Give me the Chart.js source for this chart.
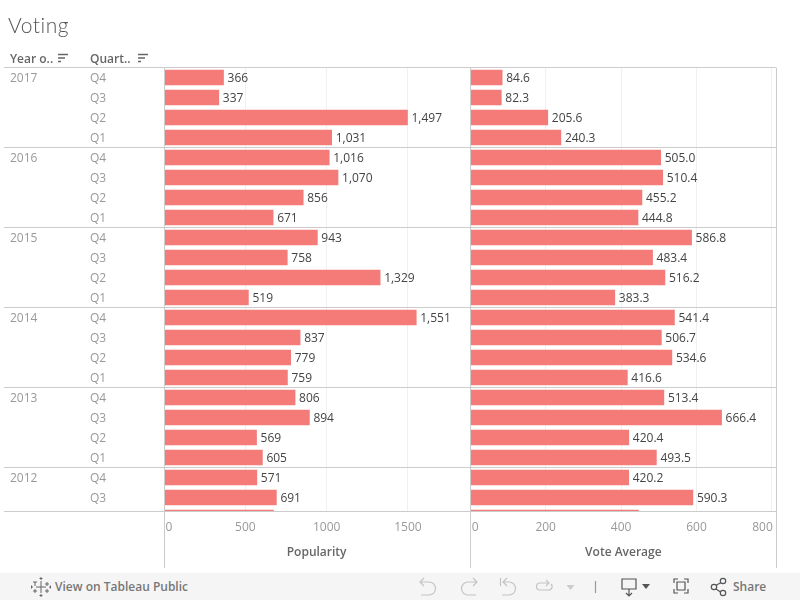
<!DOCTYPE html>
<html>
<head>
<meta charset="utf-8">
<title>Voting</title>
<script src="https://cdn.jsdelivr.net/npm/chart.js@4"></script>
<style>
  html, body { margin: 0; padding: 0; background: #fff; }
  #page { position: relative; width: 800px; height: 600px; overflow: hidden; font-family: "Open Sans", sans-serif; }
  #chart { position: absolute; left: 0; top: 0; }
  #title { position: absolute; left: 8px; top: 12px; font: 300 21px Lato, sans-serif; color: #555; letter-spacing: .5px; }
  .head { position: absolute; top: 50px; font-size: 12px; font-weight: 600; color: #666; }
  .sort { position: absolute; top: 53px; }
  #toolbar { position: absolute; left: 0; top: 573px; width: 800px; height: 27px; background: #f5f5f5; }
  #toolbar span { position: absolute; top: 5px; font-size: 12px; font-weight: 600; color: #777; }
  #toolbar svg { position: absolute; left: 0; top: 0; }
</style>
</head>
<body>
<div id="page">
  <canvas id="chart" width="800" height="600"></canvas>
  <div id="title">Voting</div>
  <div class="head" style="left:10px">Year o..</div>
  <svg class="sort" style="left:57px" width="12" height="11"><path d="M1 1.5h10M1 5h7M1 8.5h3" stroke="#666" stroke-width="1.6"/></svg>
  <div class="head" style="left:90px">Quart..</div>
  <svg class="sort" style="left:137px" width="12" height="11"><path d="M1 1.5h10M1 5h7M1 8.5h3" stroke="#666" stroke-width="1.6"/></svg>
  <div id="toolbar">
    <svg width="800" height="27" fill="none" stroke="#c4c4c4" stroke-width="1.2">
      <path d="M41 8v12M36 14h10M41 4v3M41 21v3M39.500 5.500h3M39.500 22.500h3M33 14h-1M49 14h1M31.500 12.500v3M50.500 12.500v3M35 9v4M33 9h4M47 9v4M45 11h4M35 16v4M33 18h4M47 16v4M45 18h4" stroke="#666" stroke-width="1"/>
      <path d="M421 9h8a6.500 6.500 0 0 1 0 13h-8M424 5l-4 4 4 4"/>
      <path d="M476 9h-8a6.500 6.500 0 0 0 0 13h8M473 5l4 4-4 4"/>
      <path d="M500.500 5v8M503 9h6a6.500 6.500 0 0 1 0 13h-7M507 5l-4 4 4 4"/>
      <path d="M549 10h-9a3.500 3.500 0 0 0 0 7h8a3.500 3.500 0 0 0 3-6M546 7l3 3-3 3"/>
      <path d="M566.500 12h8l-4 5z" fill="#ccc" stroke="none"/>
      <path d="M595.500 8v12" stroke="#999"/>
      <path d="M622 6h14v10h-14zM629 16v7M626 20l3 3 3-3" stroke="#555"/>
      <path d="M642 11h8l-4 5z" fill="#555" stroke="none"/>
      <path d="M674 10V6h4M684 6h4v4M688 16v4h-4M678 20h-4v-4M677 9h8v8h-8z" stroke="#555"/>
      <path d="M713 14l9-5M713 14l9 6" stroke="#555"/>
      <circle cx="714" cy="14" r="2.700" stroke="#555" fill="#f5f5f5"/><circle cx="723" cy="8" r="2.700" stroke="#555" fill="#f5f5f5"/><circle cx="723" cy="20" r="2.700" stroke="#555" fill="#f5f5f5"/>
    </svg>
    <span style="left:55px">View on Tableau Public</span>
    <span style="left:733px">Share</span>
  </div>
</div>
<script>
const years = ['2017', '', '', '', '2016', '', '', '', '2015', '', '', '', '2014', '', '', '', '2013', '', '', '', '2012', '', ''];
const quarters = ['Q4', 'Q3', 'Q2', 'Q1', 'Q4', 'Q3', 'Q2', 'Q1', 'Q4', 'Q3', 'Q2', 'Q1', 'Q4', 'Q3', 'Q2', 'Q1', 'Q4', 'Q3', 'Q2', 'Q1', 'Q4', 'Q3', 'Q2'];
const popularity = [366, 337, 1497, 1031, 1016, 1070, 856, 671, 943, 758, 1329, 519, 1551, 837, 779, 759, 806, 894, 569, 605, 571, 691, 673];
const voteAverage = [84.6, 82.3, 205.6, 240.3, 505.0, 510.4, 455.2, 444.8, 586.8, 483.4, 516.2, 383.3, 541.4, 506.7, 534.6, 416.6, 513.4, 666.4, 420.4, 493.5, 420.2, 590.3, 446];
const popularityTicks = [0, 500, 1000, 1500];
const voteTicks = [0, 200, 400, 600, 800];

const barColor = '#f47b78';
const font = '"Open Sans", sans-serif';

function points(values) {
  return values.map((v, i) => ({x: v, y: i}));
}

function fixedTicks(list) {
  return function (scale) { scale.ticks = list.map(v => ({value: v})); };
}

// row labels, value labels, separators and axis text
const tableauLook = {
  id: 'tableauLook',
  afterDatasetsDraw(chart) {
    const ctx = chart.ctx, area = chart.chartArea, yScale = chart.scales.y;
    ctx.save();
    ctx.beginPath();
    ctx.rect(0, area.top, 800, area.bottom - area.top);
    ctx.clip();
    ctx.textBaseline = 'middle';
    ctx.font = '12px ' + font;
    ctx.fillStyle = '#999';
    quarters.forEach((q, i) => {
      const py = yScale.getPixelForValue(i) + 1;
      ctx.textAlign = 'left';
      ctx.fillText(years[i], 10, py);
      if (i < 22) ctx.fillText(q, 90, py);
    });
    ctx.fillStyle = '#444';
    chart.data.datasets.forEach((ds, d) => {
      chart.getDatasetMeta(d).data.forEach((bar, i) => {
        if (i < 22) {
          const v = d === 0 ? popularity[i].toLocaleString('en-US') : voteAverage[i].toFixed(1);
          ctx.fillText(v, bar.x + 4, bar.y + 1.500);
        }
      });
    });
    ctx.restore();

    ctx.save();
    ctx.strokeStyle = '#ccc';
    ctx.lineWidth = 1;
    ctx.beginPath();
    years.forEach((year, i) => {
      if (year) {
        const py = yScale.getPixelForValue(i - 0.5);
        ctx.moveTo(4, py);
        ctx.lineTo(776, py);
      }
    });
    ctx.moveTo(4, area.bottom);
    ctx.lineTo(776, area.bottom);
    [chart.scales.x1, chart.scales.x2].forEach(s => {
      ctx.moveTo(Math.round(s.left) + 0.5, area.top);
      ctx.lineTo(Math.round(s.left) + 0.5, 568);
    });
    ctx.moveTo(776.5, area.top);
    ctx.lineTo(776.5, 568);
    ctx.stroke();

    ctx.textBaseline = 'middle';
    ctx.font = '12px ' + font;
    ctx.fillStyle = '#999';
    [[chart.scales.x1, popularityTicks], [chart.scales.x2, voteTicks]].forEach(([s, list]) => {
      list.forEach(v => {
        const px = s.getPixelForValue(v);
        if (v === 0) {
          ctx.textAlign = 'left';
          ctx.fillText('0', px + 1.500, 527.500);
        } else {
          ctx.textAlign = 'center';
          ctx.fillText(String(v), Math.min(px, s.right - 14), 527.500);
        }
      });
    });
    ctx.font = '600 12px ' + font;
    ctx.fillStyle = '#666';
    ctx.textAlign = 'center';
    ctx.fillText('Popularity', (chart.scales.x1.left + chart.scales.x1.right) / 2 - 0.5, 553);
    ctx.fillText('Vote Average', (chart.scales.x2.left + chart.scales.x2.right) / 2, 553);
    ctx.restore();
  }
};

function xScale(max, list) {
  return {
    type: 'linear',
    position: 'bottom',
    stack: 'panels',
    stackWeight: 1,
    min: 0,
    max: max,
    afterBuildTicks: fixedTicks(list),
    ticks: {display: false},
    border: {display: false},
    grid: {color: '#f0f0f0', drawTicks: false}
  };
}

new Chart(document.getElementById('chart'), {
  type: 'bar',
  data: {
    datasets: [
      {label: 'Popularity', data: points(popularity), xAxisID: 'x1', yAxisID: 'y', backgroundColor: barColor, barThickness: 15, grouped: false},
      {label: 'Vote Average', data: points(voteAverage), xAxisID: 'x2', yAxisID: 'y', backgroundColor: barColor, barThickness: 15, grouped: false}
    ]
  },
  options: {
    indexAxis: 'y',
    responsive: false,
    animation: false,
    layout: {padding: {left: 164, top: 67.5, right: 23.5, bottom: 88.5}},
    plugins: {legend: {display: false}, tooltip: {enabled: false}},
    scales: {
      x1: xScale(1883, popularityTicks),
      x2: xScale(812, voteTicks),
      y: {type: 'linear', offset: false, reverse: true, min: -0.5, max: 21.7, display: false}
    }
  },
  plugins: [tableauLook]
});
</script>
</body>
</html>
